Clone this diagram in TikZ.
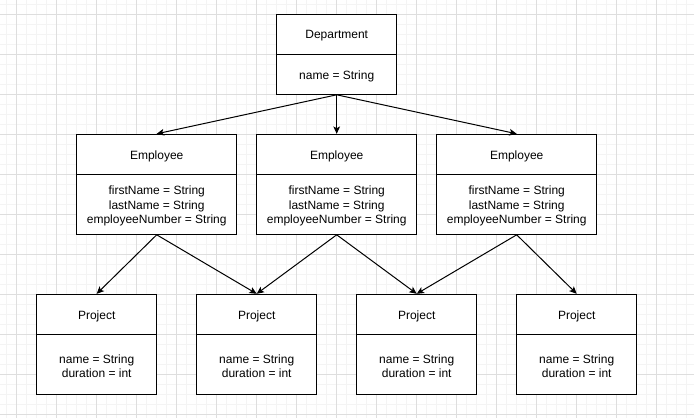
\documentclass[tikz,border=0pt]{standalone}
\usepackage{fontspec}
\setmainfont{Liberation Sans}
\usetikzlibrary{arrows.meta}
\definecolor{gridminor}{HTML}{F4F4F4}
\definecolor{gridmajor}{HTML}{DEDEDE}
\tikzset{
  hdr/.style={draw=black, line width=0.75pt, fill=white, inner sep=0pt, minimum height=30pt},
  bdy/.style={draw=black, line width=0.75pt, fill=white, inner sep=0pt},
  txt/.style={inner sep=0pt, align=center, font=\fontsize{9}{10.6}\selectfont, yshift=-1.2pt},
  narrow/.style={minimum width=90pt},
  wide/.style={minimum width=120pt},
  conn/.style={draw=black, line width=0.75pt, -{Stealth[length=5.5pt,width=5pt,inset=1.3pt]}}
}
\begin{document}
\begin{tikzpicture}[x=0.75pt,y=-0.75pt]
\useasboundingbox (0,0) rectangle (694,418);
\fill[white] (0,0) rectangle (694,418);
% grid
\foreach \k in {0,...,68} {
  \pgfmathsetmacro{\gx}{6.7+10*\k}
  \draw[gridminor, line width=0.75pt] (\gx,0) -- (\gx,418);
}
\foreach \k in {0,...,41} {
  \pgfmathsetmacro{\gy}{4.3+10*\k}
  \draw[gridminor, line width=0.75pt] (0,\gy) -- (694,\gy);
}
\foreach \k in {0,...,17} {
  \pgfmathsetmacro{\gx}{16.7+40*\k}
  \draw[gridmajor, line width=0.75pt] (\gx,0) -- (\gx,418);
}
\foreach \k in {0,...,10} {
  \pgfmathsetmacro{\gy}{14.3+40*\k}
  \draw[gridmajor, line width=0.75pt] (0,\gy) -- (694,\gy);
}
% Department
\node[hdr, narrow] (depH) at (336.7,34.3) {};
\node[txt] (depHT) at (depH.center) {Department};
\node[bdy, narrow, minimum height=30pt] (depB) at (336.7,74.3) {};
\node[txt] (depT) at (depB.center) {name = String};
% Employees
\foreach \n/\cx in {1/156.7, 2/336.7, 3/516.7} {
  \node[hdr, wide] (emp\n H) at (\cx,154.3) {};
  \node[txt] (emp\n HT) at (emp\n H.center) {Employee};
  \node[bdy, wide, minimum height=45pt] (emp\n B) at (\cx,204.3) {};
  \node[txt] (emp\n T) at (emp\n B.center) {firstName = String\\lastName = String\\employeeNumber = String};
}
% Projects
\foreach \n/\cx in {1/96.7, 2/256.7, 3/416.7, 4/576.7} {
  \node[hdr, narrow] (prj\n H) at (\cx,314.3) {};
  \node[txt] (prj\n HT) at (prj\n H.center) {Project};
  \node[bdy, narrow, minimum height=45pt] (prj\n B) at (\cx,364.3) {};
  \node[txt] (prj\n T) at (prj\n B.center) {name = String\\duration = int};
}
% connectors
\draw[conn] (depB.south) -- (emp1H.north);
\draw[conn] (depB.south) -- (emp2H.north);
\draw[conn] (depB.south) -- (emp3H.north);
\draw[conn] (emp1B.south) -- (prj1H.north);
\draw[conn] (emp1B.south) -- (prj2H.north);
\draw[conn] (emp2B.south) -- (prj2H.north);
\draw[conn] (emp2B.south) -- (prj3H.north);
\draw[conn] (emp3B.south) -- (prj3H.north);
\draw[conn] (emp3B.south) -- (prj4H.north);
\end{tikzpicture}
\end{document}
